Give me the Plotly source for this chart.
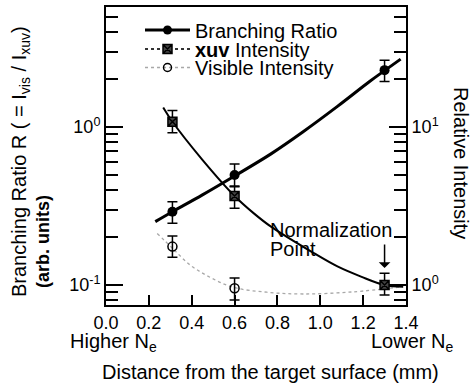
import math
import plotly.graph_objects as go

# ---------------- data ----------------
x_pts = [0.31, 0.6, 1.3]

ratio = [0.291, 0.497, 2.29]
ratio_err_plus = [0.046, 0.086, 0.36]
ratio_err_minus = [0.045, 0.073, 0.35]

xuv = [10.8, 3.66, 1.0]
xuv_err_plus = [1.9, 0.53, 0.186]
xuv_err_minus = [1.6, 0.6, 0.135]

vis_x = [0.31, 0.6]
vis = [1.75, 0.953]
vis_err_plus = [0.29, 0.154]
vis_err_minus = [0.25, 0.149]

ratio_fit_x = [0.23, 0.31, 0.45, 0.6, 0.77, 0.92, 1.08, 1.23, 1.3, 1.375]
ratio_fit_y = [0.252, 0.291, 0.372, 0.49, 0.676, 0.933, 1.35, 1.94, 2.275, 2.69]

xuv_fit_x = [0.267, 0.31, 0.45, 0.6, 0.69, 0.77, 0.97, 1.08, 1.19, 1.3, 1.387]
xuv_fit_y = [13.3, 10.8, 6.2, 3.66, 2.84, 2.34, 1.59, 1.31, 1.13, 1.0, 0.975]

vis_fit_x = [0.239, 0.31, 0.392, 0.485, 0.594, 0.75, 0.919, 1.15, 1.386]
vis_fit_y = [2.12, 1.71, 1.34, 1.12, 0.967, 0.9, 0.877, 0.904, 0.975]

x_ticks = [0.0, 0.2, 0.4, 0.6, 0.8, 1.0, 1.2, 1.4]
x_ticktext = ["0.0", "0.2", "0.4", "0.6", "0.8", "1.0", "1.2", "1.4"]
left_major = [0.1, 1]
left_major_text = ["10<sup>-1</sup>", "10<sup>0</sup>"]
left_minor = [0.08, 0.09, 0.2, 0.3, 0.4, 0.5, 0.6, 0.7, 0.8, 0.9, 2, 3, 4, 5]
right_major = [1, 10]
right_major_text = ["10<sup>0</sup>", "10<sup>1</sup>"]
right_minor = [0.8, 0.9, 2, 3, 4, 5, 6, 7, 8, 9, 20, 30, 40, 50]

FONT = "Liberation Sans, Arial, Helvetica, sans-serif"

fig = go.Figure()

# fitted curves
fig.add_trace(go.Scatter(x=vis_fit_x, y=vis_fit_y, mode="lines", yaxis="y2",
                         line=dict(color="#a8a8a8", width=1.3, dash="dot", shape="spline"),
                         showlegend=False, hoverinfo="skip"))
fig.add_trace(go.Scatter(x=xuv_fit_x, y=xuv_fit_y, mode="lines", yaxis="y2",
                         line=dict(color="black", width=2, shape="spline"),
                         showlegend=False, hoverinfo="skip"))
fig.add_trace(go.Scatter(x=ratio_fit_x, y=ratio_fit_y, mode="lines", yaxis="y",
                         line=dict(color="black", width=3, shape="spline"),
                         showlegend=False, hoverinfo="skip"))

# data points with error bars
fig.add_trace(go.Scatter(x=vis_x, y=vis, mode="markers", yaxis="y2",
                         marker=dict(symbol="circle-open", size=9, color="black", line=dict(width=1.5)),
                         error_y=dict(type="data", symmetric=False, array=vis_err_plus,
                                      arrayminus=vis_err_minus, color="black", thickness=1.5, width=5),
                         showlegend=False))
fig.add_trace(go.Scatter(x=x_pts, y=xuv, mode="markers", yaxis="y2",
                         marker=dict(symbol="square-x", size=9, color="#444", line=dict(width=1.5, color="black")),
                         error_y=dict(type="data", symmetric=False, array=xuv_err_plus,
                                      arrayminus=xuv_err_minus, color="black", thickness=1.5, width=5),
                         showlegend=False))
fig.add_trace(go.Scatter(x=x_pts, y=ratio, mode="markers", yaxis="y",
                         marker=dict(symbol="circle", size=10, color="black"),
                         error_y=dict(type="data", symmetric=False, array=ratio_err_plus,
                                      arrayminus=ratio_err_minus, color="black", thickness=1.5, width=5),
                         showlegend=False))

# legend entries (legend-only)
fig.add_trace(go.Scatter(x=[None], y=[None], mode="lines+markers", name="Branching Ratio",
                         line=dict(color="black", width=3),
                         marker=dict(symbol="circle", size=9, color="black"), legend="legend"))
fig.add_trace(go.Scatter(x=[None], y=[None], mode="lines+markers", name="<b>xuv</b> Intensity",
                         line=dict(color="#333", width=2, dash="dot"),
                         marker=dict(symbol="square-x", size=9, color="#444", line=dict(width=1.5, color="black")),
                         legend="legend2"))
fig.add_trace(go.Scatter(x=[None], y=[None], mode="lines+markers", name="Visible Intensity",
                         line=dict(color="#a8a8a8", width=1.3, dash="dot"),
                         marker=dict(symbol="circle-open", size=8, color="black", line=dict(width=1.5)),
                         legend="legend3"))

L, R, T, B = 106, 67, 7, 78
W, H = 473, 383
pw, ph = W - L - R, H - T - B

def px_x(p):
    return (p - L) / pw

def px_y(p):
    return (H - B - p) / ph

leg_common = dict(xanchor="left", yanchor="top", bgcolor="rgba(0,0,0,0)",
                  font=dict(family=FONT, size=20, color="black"), itemwidth=45,
                  borderwidth=0)

axis_font = dict(family=FONT, size=18, color="black")

left_lo, left_hi = math.log10(0.0747), math.log10(5.75)

fig.update_layout(
    width=W, height=H,
    margin=dict(l=L, r=R, t=T, b=B, pad=0, autoexpand=False),
    paper_bgcolor="white", plot_bgcolor="white",
    font=dict(family=FONT, color="black"),
    showlegend=True,
    legend=dict(x=px_x(140), y=px_y(10.5), **leg_common),
    legend2=dict(x=px_x(140), y=px_y(29.5), **leg_common),
    legend3=dict(x=px_x(140), y=px_y(48), **leg_common),
    xaxis=dict(range=[0, 1.4], tickvals=x_ticks, ticktext=x_ticktext,
               ticks="inside", ticklen=10, tickwidth=2, tickcolor="black",
               showline=True, linewidth=2, linecolor="black", mirror=True,
               showgrid=False, zeroline=False, tickfont=axis_font, ticklabelstandoff=0),
    yaxis=dict(type="log", range=[left_lo, left_hi],
               tickvals=left_major, ticktext=left_major_text,
               ticks="inside", ticklen=17, tickwidth=2, tickcolor="black",
               minor=dict(tickvals=left_minor, ticks="inside", ticklen=12, tickwidth=2, tickcolor="black",
                          showgrid=False),
               showline=True, linewidth=2, linecolor="black",
               showgrid=False, zeroline=False, tickfont=axis_font),
    yaxis2=dict(type="log", range=[left_lo + 1, left_hi + 1], overlaying="y", side="right", anchor="x",
                tickvals=right_major, ticktext=right_major_text,
                ticks="inside", ticklen=17, tickwidth=2, tickcolor="black",
                minor=dict(tickvals=right_minor, ticks="inside", ticklen=12, tickwidth=2, tickcolor="black",
                           showgrid=False),
                showline=True, linewidth=2, linecolor="black",
                showgrid=False, zeroline=False, tickfont=axis_font),
)

ann_font = dict(family=FONT, size=20, color="black")
annotations = [
    dict(text="Distance from the target surface (mm)", xref="paper", yref="paper",
         x=px_x(270), y=px_y(372), xanchor="center", yanchor="middle", showarrow=False, font=ann_font),
    dict(text="Branching Ratio R ( = I<sub>vis</sub> / I<sub>xuv</sub>)", xref="paper", yref="paper",
         x=px_x(20), y=px_y(162), xanchor="center", yanchor="middle", textangle=-90,
         showarrow=False, font=ann_font),
    dict(text="<b>(arb. units)</b>", xref="paper", yref="paper",
         x=px_x(43), y=px_y(242), xanchor="center", yanchor="middle", textangle=-90,
         showarrow=False, font=dict(family=FONT, size=18, color="black")),
    dict(text="Relative Intensity", xref="paper", yref="paper",
         x=px_x(461), y=px_y(163), xanchor="center", yanchor="middle", textangle=90,
         showarrow=False, font=ann_font),
    dict(text="Higher N<sub>e</sub>", xref="paper", yref="paper",
         x=px_x(68), y=px_y(342), xanchor="left", yanchor="middle", showarrow=False, font=ann_font),
    dict(text="Lower N<sub>e</sub>", xref="paper", yref="paper",
         x=px_x(455), y=px_y(342), xanchor="right", yanchor="middle", showarrow=False, font=ann_font),
    dict(text="Normalization", xref="paper", yref="paper",
         x=px_x(268), y=px_y(230), xanchor="left", yanchor="middle", showarrow=False, font=ann_font),
    dict(text="Point", xref="paper", yref="paper",
         x=px_x(268), y=px_y(249), xanchor="left", yanchor="middle", showarrow=False, font=ann_font),
    dict(text="", xref="x", yref="y2", x=x_pts[2], y=math.log10(xuv[2]),
         showarrow=True, ax=0, ay=-42, standoff=17, arrowhead=1, arrowsize=1.3,
         arrowwidth=1.5, arrowcolor="black"),
]
fig.update_layout(annotations=annotations)

fig.write_html("out.html", config={"displayModeBar": False},
               post_script="document.body.style.margin='0';document.body.style.overflow='hidden';")
